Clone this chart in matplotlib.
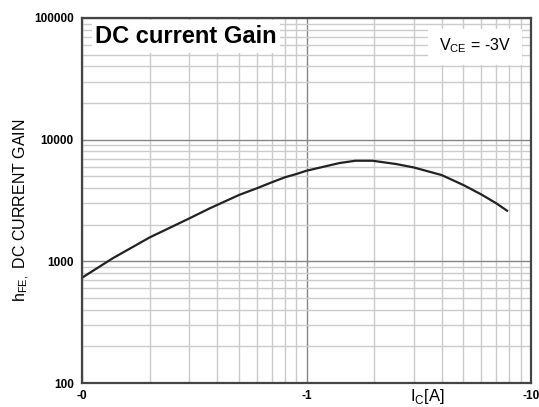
import matplotlib.pyplot as plt
from matplotlib.patches import Rectangle

plt.rcParams["font.family"] = ["Liberation Sans", "DejaVu Sans"]

# ------------------ DATA ------------------
ic = [0.1, 0.137, 0.2, 0.301, 0.37, 0.5, 0.6, 0.7, 0.8, 0.9, 1.0, 1.4,
      1.65, 1.97, 2.5, 3.0, 4.0, 5.0, 6.0, 7.0, 7.82]
hfe = [733, 1059, 1571, 2256, 2722, 3508, 3981, 4460, 4900, 5215, 5555, 6420,
       6710, 6710, 6310, 5915, 5117, 4236, 3550, 3000, 2608]

x_ticks = [0.1, 1, 10]
x_labels = ["-0", "-1", "-10"]
y_ticks = [100, 1000, 10000, 100000]
y_labels = ["100", "1000", "10000", "100000"]

# ------------------ CHART ------------------
fig = plt.figure(figsize=(5.39, 4.07), dpi=100)
ax = fig.add_axes([82 / 539, 24 / 407, 449 / 539, 365 / 407])

ax.plot(ic, hfe, color="#222222", lw=1.6, solid_joinstyle="round")

ax.set_xscale("log")
ax.set_yscale("log")
ax.set_xlim(0.1, 10)
ax.set_ylim(100, 100000)

ax.grid(True, which="major", color="#858585", lw=1.0)
ax.grid(True, which="minor", color="#cbcbcb", lw=1.0)
ax.set_axisbelow(True)

ax.set_xticks(x_ticks)
ax.set_xticklabels(x_labels)
ax.set_yticks(y_ticks)
ax.set_yticklabels(y_labels)
ax.tick_params(which="both", length=0, labelsize=8.5)
ax.tick_params(axis="y", pad=6)
ax.tick_params(axis="x", pad=5)
for lab in ax.get_xticklabels() + ax.get_yticklabels():
    lab.set_fontweight("bold")

for s in ax.spines.values():
    s.set_linewidth(1.6)
    s.set_color("#444444")

fig.text(22 / 539, 1 - 210 / 407, r"h$_{\mathregular{FE,}}$ DC CURRENT GAIN",
         rotation=90, fontsize=11.5, ha="center", va="center")
fig.text(427 / 539, 1 - 397 / 407, r"I$_\mathregular{C}$[A]",
         fontsize=12, ha="center", va="center")

# title box
ax.add_patch(Rectangle((0.022, 0.904), 0.42, 0.091, transform=ax.transAxes,
                       facecolor="white", edgecolor="none", zorder=1.5))
ax.text(0.2305, 0.948, "DC current Gain", transform=ax.transAxes, fontsize=17,
        fontweight="bold", va="center", ha="center", zorder=3)

# VCE box
ax.add_patch(Rectangle((0.771, 0.871), 0.209, 0.099, transform=ax.transAxes,
                       facecolor="white", edgecolor="none", zorder=1.5))
ax.text(0.875, 0.924, r"V$_\mathregular{CE}$ = -3V", transform=ax.transAxes,
        fontsize=11.5, va="center", ha="center", zorder=3)

plt.savefig("out.png", dpi=100)
plt.close()
